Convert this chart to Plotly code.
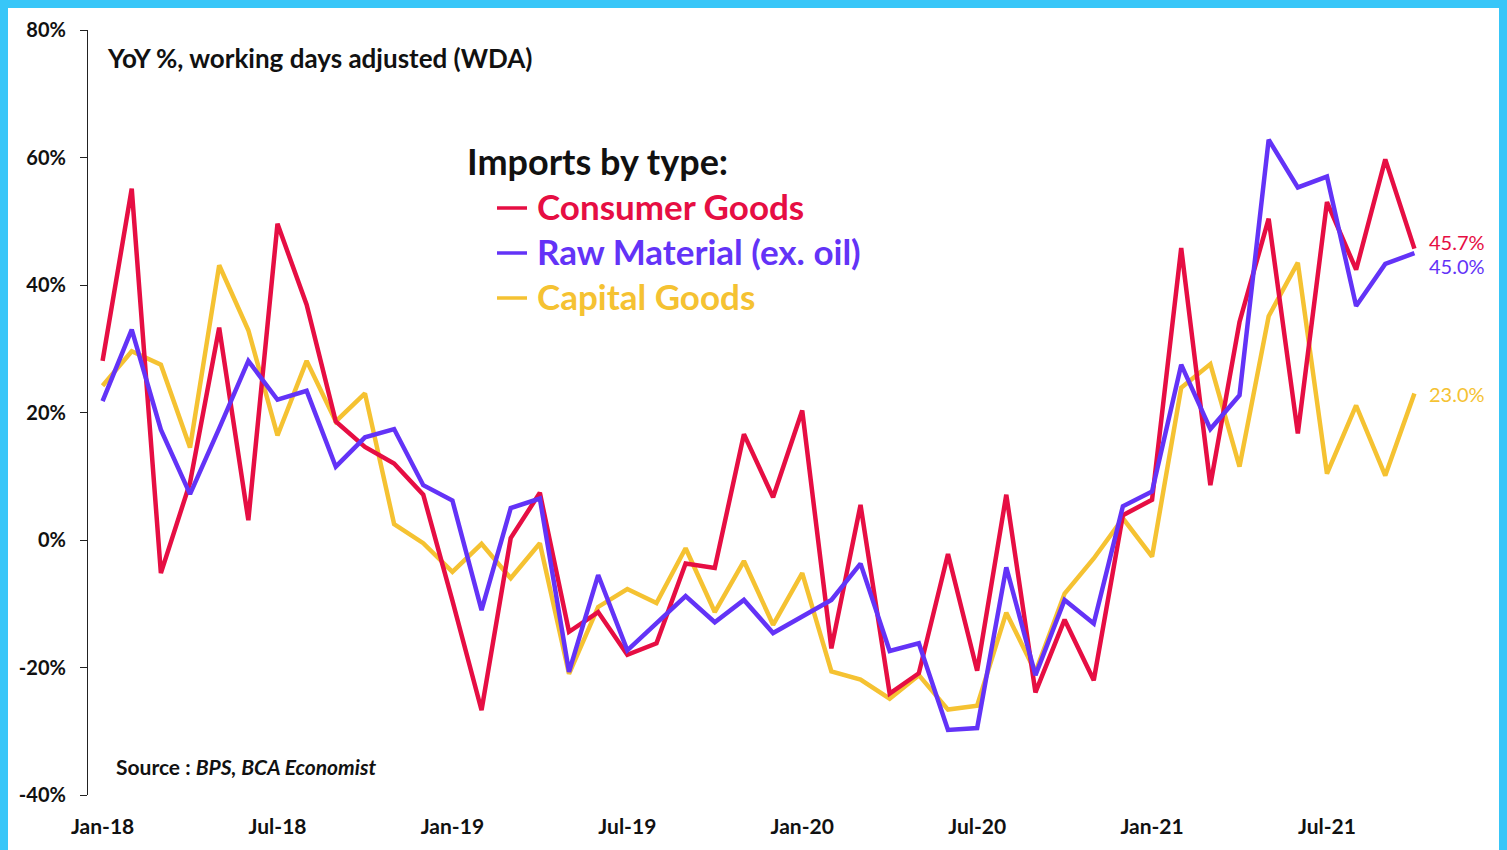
import plotly.graph_objects as go

months = ["Jan-18","Feb-18","Mar-18","Apr-18","May-18","Jun-18","Jul-18","Aug-18","Sep-18","Oct-18","Nov-18","Dec-18",
          "Jan-19","Feb-19","Mar-19","Apr-19","May-19","Jun-19","Jul-19","Aug-19","Sep-19","Oct-19","Nov-19","Dec-19",
          "Jan-20","Feb-20","Mar-20","Apr-20","May-20","Jun-20","Jul-20","Aug-20","Sep-20","Oct-20","Nov-20","Dec-20",
          "Jan-21","Feb-21","Mar-21","Apr-21","May-21","Jun-21","Jul-21","Aug-21","Sep-21","Oct-21"]

consumer = [28.1, 55.1, -5.2, 9.0, 33.3, 3.1, 49.6, 36.9, 18.6, 14.6, 12.0, 7.1,
            -9.5, -26.7, 0.3, 7.4, -14.4, -11.3, -18.0, -16.2, -3.7, -4.4, 16.6, 6.7,
            20.3, -17.0, 5.5, -24.1, -20.9, -2.2, -20.5, 7.1, -23.9, -12.5, -22.0, 3.9,
            6.3, 45.8, 8.6, 34.2, 50.4, 16.7, 53.0, 42.4, 59.7, 45.7]

raw_material = [21.8, 33.0, 17.3, 7.2, 17.5, 28.1, 22.0, 23.4, 11.5, 16.1, 17.4, 8.6,
                6.2, -11.0, 5.0, 6.5, -20.7, -5.5, -17.3, -13.1, -8.8, -12.9, -9.4, -14.6,
                -12.0, -9.4, -3.7, -17.4, -16.2, -29.8, -29.5, -4.3, -21.2, -9.4, -13.1, 5.3,
                7.6, 27.5, 17.4, 22.7, 62.8, 55.3, 57.0, 36.7, 43.3, 45.0]

capital = [24.2, 29.6, 27.5, 14.5, 43.1, 32.9, 16.4, 28.1, 18.6, 23.0, 2.5, -0.5,
           -5.0, -0.6, -6.0, -0.5, -21.0, -10.5, -7.7, -9.9, -1.3, -11.3, -3.3, -13.3,
           -5.2, -20.6, -21.9, -24.9, -21.2, -26.6, -26.0, -11.4, -20.7, -8.4, -2.9, 3.4,
           -2.6, 23.9, 27.6, 11.5, 35.1, 43.5, 10.4, 21.1, 10.1, 23.0]

y_ticks = [-40, -20, 0, 20, 40, 60, 80]
y_tick_text = [f"{v}%" for v in y_ticks]
x_label_idx = [0, 6, 12, 18, 24, 30, 36, 42]
x_tick_idx = [5.5, 11.5, 17.5, 23.5, 29.5, 35.5, 41.5]

series_names = ["Consumer Goods", "Raw Material (ex. oil)", "Capital Goods"]
RED = "#E60E43"
BLUE = "#6333F7"
YELLOW = "#F5C232"
BORDER = "#38C6F8"

OFF = 8  # page body margin offset
W, H = 1507 - 2 * OFF + 1, 850 - OFF
ML, MT, MB = 88 - OFF, 30 - OFF, 55
MR = W - (1429 - OFF)
PW = W - ML - MR
PH = H - MT - MB

def px_x(px):
    return (px - OFF - ML) / PW

def px_y(py):
    return (H - MB - (py - OFF)) / PH

FONT = "Lato"
x = list(range(len(months)))

fig = go.Figure()
fig.add_trace(go.Scatter(x=x, y=capital, mode="lines", name=series_names[2],
                         line=dict(color=YELLOW, width=4.5)))
fig.add_trace(go.Scatter(x=x, y=consumer, mode="lines", name=series_names[0],
                         line=dict(color=RED, width=4.5)))
fig.add_trace(go.Scatter(x=x, y=raw_material, mode="lines", name=series_names[1],
                         line=dict(color=BLUE, width=4.5)))

annotations = []
end_specs = [(consumer, RED, 7), (raw_material, BLUE, -13), (capital, YELLOW, -1)]
for vals, col, ys in end_specs:
    annotations.append(dict(x=x[-1], y=vals[-1], xref="x", yref="y", text=f"{vals[-1]:.1f}%",
                            showarrow=False, xanchor="left", yanchor="middle", xshift=13, yshift=ys,
                            font=dict(family=FONT, size=20, color=col)))

annotations.append(dict(x=px_x(105), y=px_y(58), xref="paper", yref="paper",
                        text="<b>YoY %, working days adjusted (WDA)</b>", showarrow=False,
                        xanchor="left", yanchor="middle",
                        font=dict(family=FONT, size=26, color="#111111")))
annotations.append(dict(x=px_x(465), y=px_y(161), xref="paper", yref="paper",
                        text="<b>Imports by type:</b>", showarrow=False,
                        xanchor="left", yanchor="middle",
                        font=dict(family=FONT, size=36, color="#111111")))
legend_colors = [RED, BLUE, YELLOW]
legend_y = [206, 251, 296]
shapes = []
for name, col, ly in zip(series_names, legend_colors, legend_y):
    annotations.append(dict(x=px_x(535), y=px_y(ly), xref="paper", yref="paper",
                            text=f"<b>{name}</b>", showarrow=False, xanchor="left", yanchor="middle",
                            font=dict(family=FONT, size=35, color=col)))
    shapes.append(dict(type="line", xref="paper", yref="paper",
                       x0=px_x(497), x1=px_x(527), y0=px_y(ly + 2), y1=px_y(ly + 2),
                       line=dict(color=col, width=3.5)))

annotations.append(dict(x=px_x(114), y=px_y(766), xref="paper", yref="paper",
                        text="<b>Source : <i>BPS, BCA Economist</i></b>", showarrow=False,
                        xanchor="left", yanchor="middle",
                        font=dict(family=FONT, size=21, color="#111111")))

fig.update_layout(
    width=W, height=H,
    margin=dict(l=ML, r=MR, t=MT, b=MB, autoexpand=False),
    paper_bgcolor="white", plot_bgcolor="white",
    showlegend=False,
    annotations=annotations,
    shapes=shapes,
    xaxis=dict(range=[-0.5, len(months) - 0.5], tickmode="array", tickvals=x_label_idx,
               ticktext=[months[i] for i in x_label_idx], ticks="", showline=False,
               showgrid=False, zeroline=False, ticklabelstandoff=17,
               tickfont=dict(family=FONT, size=21, color="#111111", weight="bold")),
    xaxis2=dict(range=[-0.5, len(months) - 0.5], overlaying="x", anchor="free",
                position=40 / 120, tickmode="array", tickvals=x_tick_idx,
                showticklabels=False, ticks="outside", ticklen=6, tickwidth=1.5,
                tickcolor="#333333", showline=True, linecolor="#333333", linewidth=1.5,
                showgrid=False, zeroline=False),
    yaxis=dict(range=[-40, 80], tickmode="array", tickvals=y_ticks, ticktext=y_tick_text,
               showline=True, linecolor="#222222", linewidth=1.2, ticks="outside",
               ticklen=7, tickcolor="#222222", showgrid=False, zeroline=False,
               ticklabelstandoff=10,
               tickfont=dict(family=FONT, size=20, color="#111111", weight="bold")),
)

fig.write_html("out.html",
               post_script=f"document.body.style.background='{BORDER}';")
